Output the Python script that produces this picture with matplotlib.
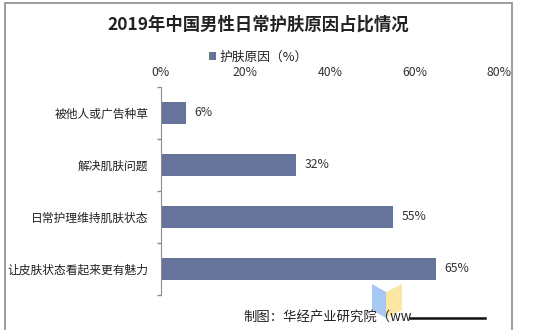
import matplotlib.pyplot as plt
import matplotlib.patches as mpatches
import numpy as np

plt.rcParams['font.family'] = ['Noto Sans CJK SC', 'DejaVu Sans']

categories = ["被他人或广告种草", "解决肌肤问题", "日常护理维持肌肤状态", "让皮肤状态看起来更有魅力"]
values = [6, 32, 55, 65]
xticks = [0, 20, 40, 60, 80]
title = "2019年中国男性日常护肤原因占比情况"
legend_label = "护肤原因（%）"
source = "制图：华经产业研究院（ww"

bar_color = "#66739a"
W, H = 544, 330

fig = plt.figure(figsize=(W / 100, H / 100), dpi=100)
fig.patch.set_facecolor("white")

# outer frame
fig.add_artist(mpatches.Rectangle((5 / W, -0.1), 507 / W, 1.1 - 3 / H, transform=fig.transFigure,
                                  fill=False, edgecolor="#8c8c8c", lw=1.2))

ax = fig.add_axes([161 / W, 1 - 295 / H, (499 - 161) / W, (295 - 87) / H])
y = np.arange(len(categories))
ax.barh(y, values, height=0.44, color=bar_color, label=legend_label)
ax.set_ylim(len(categories) - 0.5, -0.5)
ax.set_xlim(0, 80)

for yi, v in zip(y, values):
    ax.text(v + 2.0, yi, f"{v}%", va="center", ha="left", fontsize=8.8, color="#333333")

ax.xaxis.tick_top()
ax.set_xticks(xticks)
ax.set_xticklabels([f"{t}%" for t in xticks], fontsize=8.8, color="#333333")
ax.tick_params(axis="x", length=0, pad=6)
ax.set_yticks(y)
ax.set_yticklabels(categories, fontsize=8.5, color="#222222")
ax.set_yticks(np.arange(len(categories) + 1) - 0.5, minor=True)
ax.tick_params(axis="y", which="major", length=0, pad=9)
ax.tick_params(axis="y", which="minor", length=3, color="#8c8c8c", width=1)
for s in ["top", "right", "bottom"]:
    ax.spines[s].set_visible(False)
ax.spines["left"].set_color("#8c8c8c")

fig.text(258 / W, 1 - 25 / H, title, ha="center", va="center", fontsize=12.5,
         fontweight="bold", color="#222222")
fig.legend(loc="center", bbox_to_anchor=(258 / W, 1 - 57 / H), frameon=False, fontsize=9.2,
           handlelength=0.6, handleheight=0.6, handletextpad=0.2, labelcolor="#222222",
           borderpad=0, borderaxespad=0)

# logo and footer
fig.add_artist(mpatches.Polygon([(372 / W, 1 - 284 / H), (386 / W, 1 - 292 / H), (386 / W, 1 - 318 / H),
                                 (372 / W, 1 - 310 / H)], closed=True, transform=fig.transFigure,
                                facecolor="#a7c8f2", edgecolor="none"))
fig.add_artist(mpatches.Polygon([(386 / W, 1 - 292 / H), (402 / W, 1 - 284 / H), (402 / W, 1 - 310 / H),
                                 (386 / W, 1 - 318 / H)], closed=True, transform=fig.transFigure,
                                facecolor="#fbe7a1", edgecolor="none"))
fig.text(243 / W, 1 - 318 / H, source, ha="left", va="center", fontsize=9.6, color="#222222")
fig.add_artist(plt.Line2D([410 / W, 485 / W], [1 - 318 / H, 1 - 318 / H], transform=fig.transFigure,
                          color="#111111", lw=1.8))

fig.savefig("out.png", dpi=100)
